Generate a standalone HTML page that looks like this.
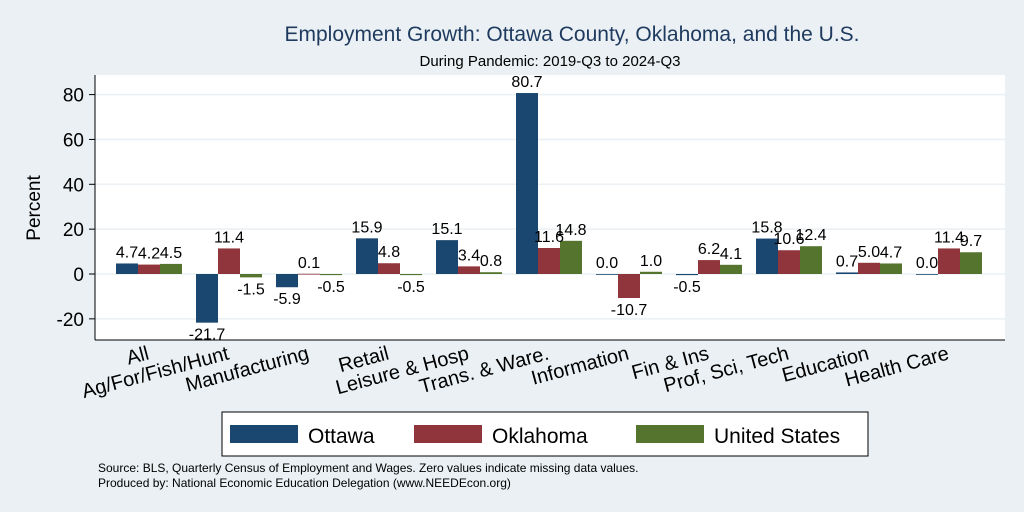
<!DOCTYPE html>
<html><head><meta charset="utf-8"><style>
body{margin:0;background:#eaf0f3;}
svg{display:block;font-family:"Liberation Sans",sans-serif;}
</style></head><body>
<svg id="c" width="1024" height="512">
<rect width="1024" height="512" fill="#eaf0f3"/>
<text x="572" y="41" font-size="21" fill="#1e3a5f" text-anchor="middle">Employment Growth: Ottawa County, Oklahoma, and the U.S.</text>
<text x="550" y="66" font-size="15" fill="#000" text-anchor="middle">During Pandemic: 2019-Q3 to 2024-Q3</text>
<rect x="95" y="75" width="910" height="265" fill="#fff"/>
<g id="grid"></g><g id="bars"></g><g id="labels"></g>
<line x1="95" y1="75" x2="95" y2="340" stroke="#000"/>
<line x1="95" y1="340" x2="1005" y2="340" stroke="#000"/>
<text transform="translate(40,208) rotate(-90)" font-size="19" text-anchor="middle">Percent</text>
<g>
<rect x="222" y="412" width="646" height="44" fill="#fff" stroke="#000" stroke-width="1"/>
<rect x="230" y="425" width="68" height="18" fill="#1a476f"/>
<text x="308" y="443" font-size="21">Ottawa</text>
<rect x="414" y="425" width="68" height="18" fill="#90353b"/>
<text x="492" y="443" font-size="21">Oklahoma</text>
<rect x="636" y="425" width="68" height="18" fill="#55752f"/>
<text x="714" y="443" font-size="21">United States</text>
</g>
<text x="98" y="472" font-size="12">Source: BLS, Quarterly Census of Employment and Wages. Zero values indicate missing data values.</text>
<text x="98" y="487" font-size="12">Produced by: National Economic Education Delegation (www.NEEDEcon.org)</text>
</svg>
<script>
const categories=["All","Ag/For/Fish/Hunt","Manufacturing","Retail","Leisure & Hosp","Trans. & Ware.","Information","Fin & Ins","Prof, Sci, Tech","Education","Health Care"];
const ottawa=[4.7,-21.7,-5.9,15.9,15.1,80.7,0.0,-0.5,15.8,0.7,0.0];
const oklahoma=[4.2,11.4,0.1,4.8,3.4,11.6,-10.7,6.2,10.6,5.0,11.4];
const unitedStates=[4.5,-1.5,-0.5,-0.5,0.8,14.8,1.0,4.1,12.4,4.7,9.7];
const yTicks=[-20,0,20,40,60,80];
const NS="http://www.w3.org/2000/svg";
function y(v){return 274-v*2.2425;}
function gx(i){return 116+i*80;}
function mk(t,a,p){const e=document.createElementNS(NS,t);for(const k in a)e.setAttribute(k,a[k]);p.appendChild(e);return e;}
const grid=document.getElementById('grid'),bars=document.getElementById('bars'),labels=document.getElementById('labels');
yTicks.forEach(t=>{
 const l=mk('line',{x1:95,x2:1005,y1:y(t),y2:y(t),stroke:'#eaf0f3','stroke-width':1.5},grid);
 
 
 const tk=mk('line',{x1:89,x2:95,y1:y(t),y2:y(t),stroke:'#000'},grid);
 
 
 const tx=mk('text',{x:84,y:y(t)+7,'font-size':19,'text-anchor':'end'},grid);
 tx.textContent=t;
 
 
});
const series=[[ottawa,'#1a476f','ottawa'],[oklahoma,'#90353b','oklahoma'],[unitedStates,'#55752f','us']];
categories.forEach((c,i)=>{
 series.forEach((s,j)=>{
  const v=s[0][i],x=gx(i)+j*22,y0=y(0),y1=y(v);
  const r=mk('rect',{x:x,y:Math.min(y0,y1),width:22,height:Math.max(Math.abs(y1-y0),0.8),fill:s[1]},bars);
  
  
  const t=mk('text',{x:x+11,y:v>=0?y1-6:y1+17,'font-size':16,'text-anchor':'middle'},labels);
  t.textContent=v.toFixed(1);
  
  
 });
 const cx=gx(i)+34,cy=359;
 const t=mk('text',{x:cx,y:cy,'font-size':20,'text-anchor':'end',transform:'rotate(-15 '+cx+' '+cy+')'},labels);
 t.textContent=c;
 
 
});
</script>
</body></html>
